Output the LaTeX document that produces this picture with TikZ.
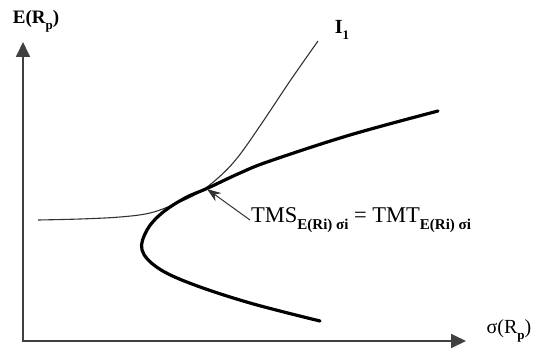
\documentclass[tikz,border=0pt]{standalone}
\usepackage{fontspec}
\setmainfont{Liberation Serif}
\usetikzlibrary{arrows.meta}
\newcommand{\lowsub}[1]{\raisebox{-0.32em}{\fontsize{13}{13}\selectfont\bfseries #1}}
\newcommand{\lowsubb}[1]{\raisebox{-0.3em}{\fontsize{15}{15}\selectfont\bfseries #1}}
\tikzset{
  axis/.style={line width=1.8pt, draw=black!75, -{Triangle[length=15pt,width=14pt]}},
  frontier/.style={line width=3.2pt, line cap=round, line join=round},
  indiff/.style={line width=1.1pt, draw=black!80},
  lbl/.style={inner sep=1pt, font=\fontsize{20}{20}\selectfont},
}
\begin{document}
\begin{tikzpicture}[x=1pt,y=-1pt]
\useasboundingbox (0,0) rectangle (537,350);
\coordinate (o) at (23,341);
\coordinate (ytip) at (23,42);
\coordinate (xtip) at (466,341);
\draw[axis] (o) -- (ytip);
\draw[axis] ([xshift=-0.9pt]o) -- (xtip);
\node[lbl, font=\fontsize{19}{19}\selectfont\bfseries] (ylab) at (36,21) {E(R\lowsub{p})};
\node[lbl] (xlab) at (509,331) {σ(R\lowsub{p})};
% indifference curve
\draw[indiff] plot[smooth, tension=0.6] coordinates {(38,220) (80,219) (120,217) (150,213) (175,204) (198,193) (218,178) (238,157) (264,120) (290,81) (318,41)};
\node[lbl, font=\fontsize{20}{20}\selectfont\bfseries] (ilab) at (342,30) {I\lowsub{1}};
% efficient frontier
\draw[frontier] plot[smooth, tension=0.6] coordinates {(320,321) (250,303) (192,284) (158,268) (142,250) (147,230) (162,213) (185,198) (208,188) (240,173) (270,161) (350,135) (438,111)};
\coordinate (tp) at (207,189);
\node[lbl, anchor=west, font=\fontsize{22.5}{22.5}\selectfont] (tms) at (250,220) {TMS\lowsubb{E(Ri) σi} = TMT\lowsubb{E(Ri) σi}};
\draw[line width=1pt, draw=black!80, -{Stealth[length=14pt,width=10pt]}] (tms.west) -- (tp);
\end{tikzpicture}
\end{document}
